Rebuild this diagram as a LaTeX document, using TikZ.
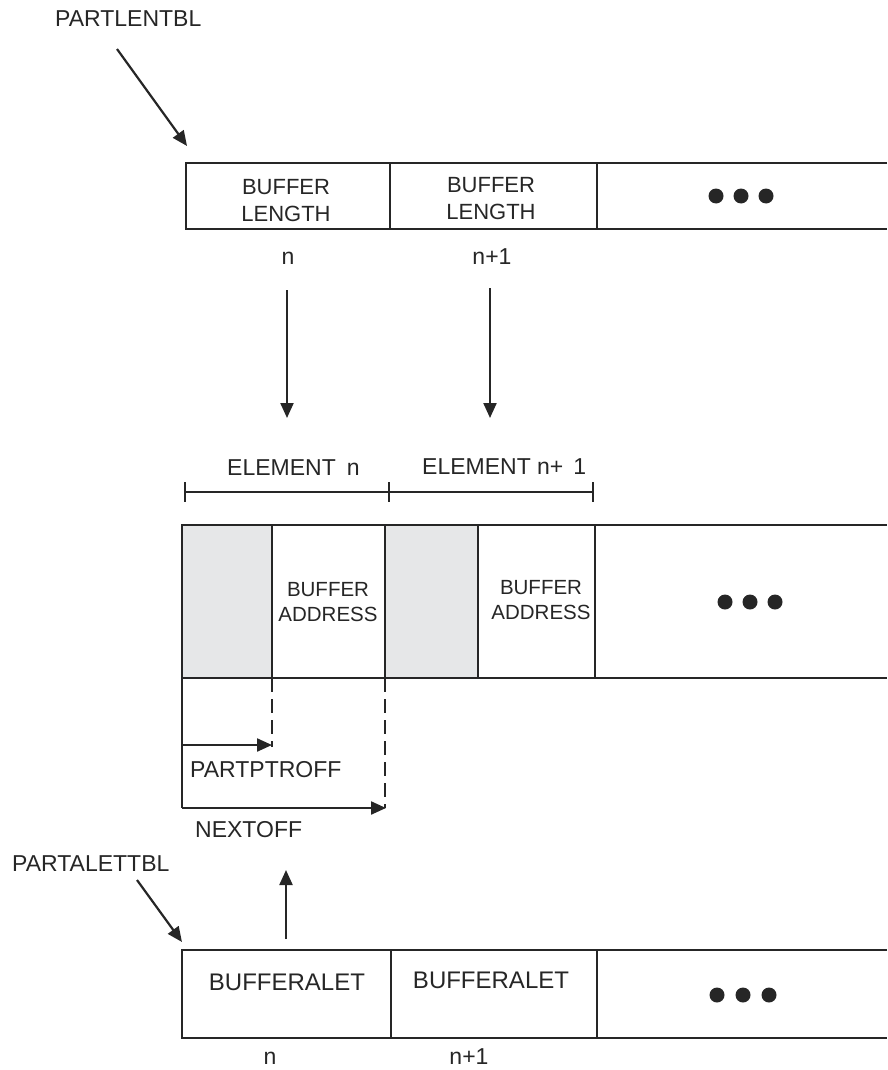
\documentclass[tikz,border=0pt]{standalone}
\usepackage{fontspec}
\setmainfont{Liberation Sans}
\usetikzlibrary{arrows.meta}
\definecolor{ink}{HTML}{262626}
\definecolor{cellgray}{HTML}{E6E7E8}
\begin{document}
\begin{tikzpicture}[x=1pt,y=-1pt,
  lbl/.style={font=\fontsize{23}{27}\selectfont, text=ink, inner sep=0pt},
  midlbl/.style={font=\fontsize{20.5}{24.5}\selectfont, text=ink, inner sep=0pt, align=center},
  toplbl/.style={font=\fontsize{22}{27}\selectfont, text=ink, inner sep=0pt, align=center},
  botlbl/.style={font=\fontsize{24}{28}\selectfont, text=ink, inner sep=0pt},
  cellline/.style={draw=ink, line width=2.4pt},
  arr/.style={draw=ink, line width=2.2pt, -{Triangle[length=15pt,width=13pt]}},
  dsh/.style={draw=ink, line width=2.4pt, dash pattern=on 14pt off 7pt},
  bigdot/.style={circle, fill=ink, minimum size=15pt, inner sep=0pt},
  brk/.style={draw=ink, line width=2.8pt}]
\useasboundingbox (0,0) rectangle (887,1070);

% ---------- top table (PARTLENTBL) ----------
\draw[cellline] (887,163) -- (186,163) -- (186,229) -- (887,229);
\draw[cellline] (390,163) -- (390,229);
\draw[cellline] (597,163) -- (597,229);
\node[toplbl] (bl1) at (286,200.5) {BUFFER\\LENGTH};
\node[toplbl] (bl2) at (491,198.5) {BUFFER\\LENGTH};
\node[bigdot] (td1) at (716,196) {};
\node[bigdot] (td2) at (741,196) {};
\node[bigdot] (td3) at (766,196) {};
\node[lbl] (tn1) at (288,258) {n};
\node[lbl] (tn2) at (492,257) {n+1};

\node[lbl, anchor=west] (plt) at (55,18.5) {PARTLENTBL};
\coordinate (pltS) at (117,49);
\coordinate (pltE) at (187,146);
\draw[arr] (pltS) -- (pltE);

% down arrows
\coordinate (d1s) at (287,290);
\coordinate (d1e) at (287,418);
\coordinate (d2s) at (490,288);
\coordinate (d2e) at (490,418);
\draw[arr] (d1s) -- (d1e);
\draw[arr] (d2s) -- (d2e);

% ---------- element brackets ----------
\node[lbl, anchor=west] (el1) at (227,468) {ELEMENT\hspace{11pt}n};
\node[lbl, anchor=west] (el2) at (422,466.5) {ELEMENT n+\hspace{10pt}1};
\coordinate (b1) at (185,492);
\coordinate (b2) at (389,492);
\coordinate (b3) at (593,492);
\draw[brk] (b1) -- (b3);
\draw[brk] (185,482) -- (185,502);
\draw[brk] (389,482) -- (389,502);
\draw[brk] (593,482) -- (593,502);

% ---------- middle table ----------
\fill[cellgray] (182,525) rectangle (272,678);
\fill[cellgray] (385,525) rectangle (478,678);
\draw[cellline] (887,525) -- (182,525) -- (182,678) -- (887,678);
\draw[cellline] (272,525) -- (272,678);
\draw[cellline] (385,525) -- (385,678);
\draw[cellline] (478,525) -- (478,678);
\draw[cellline] (595,525) -- (595,678);
\node[midlbl] (ba1) at (328,602) {BUFFER\\ADDRESS};
\node[midlbl] (ba2) at (541,600) {BUFFER\\ADDRESS};
\node[bigdot] (md1) at (725,602) {};
\node[bigdot] (md2) at (750,602) {};
\node[bigdot] (md3) at (775,602) {};

% offsets
\coordinate (o0) at (182,678);
\coordinate (o1) at (182,808);
\coordinate (p0) at (272,678);
\coordinate (p1) at (272,747);
\coordinate (q0) at (385,678);
\coordinate (q1) at (385,808);
\draw[cellline] (o0) -- (o1);
\draw[dsh] (p0) -- (p1);
\draw[dsh] (q0) -- (q1);
\coordinate (pa) at (182,745);
\coordinate (pb) at (272,745);
\draw[arr] (pa) -- (pb);
\draw[arr] (o1) -- (386,808);
\node[lbl, anchor=west] (ppo) at (190,770) {PARTPTROFF};
\node[lbl, anchor=west] (nxo) at (195,830) {NEXTOFF};

% ---------- bottom table (PARTALETTBL) ----------
\node[lbl, anchor=west] (pat) at (12,864) {PARTALETTBL};
\coordinate (patS) at (137,880);
\coordinate (patE) at (182,942);
\draw[arr] (patS) -- (patE);
\coordinate (u0) at (286,939);
\coordinate (u1) at (286,870);
\draw[arr] (u0) -- (u1);

\draw[cellline] (887,950) -- (182,950) -- (182,1038) -- (887,1038);
\draw[cellline] (391,950) -- (391,1038);
\draw[cellline] (597,950) -- (597,1038);
\node[botlbl] (ab1) at (287,982) {BUFFERALET};
\node[botlbl] (ab2) at (491,980) {BUFFERALET};
\node[bigdot] (bd1) at (717,995) {};
\node[bigdot] (bd2) at (743,995) {};
\node[bigdot] (bd3) at (769,995) {};
\node[lbl] (bn1) at (270,1058) {n};
\node[lbl] (bn2) at (469,1057) {n+1};
\end{tikzpicture}
\end{document}
